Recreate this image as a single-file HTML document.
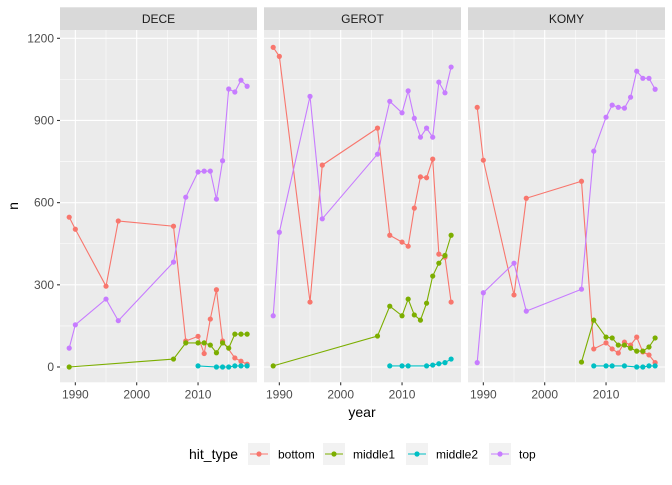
<!DOCTYPE html>
<html><head><meta charset="utf-8"><style>
body{margin:0;background:#fff;font-family:"Liberation Sans",Arial,sans-serif}
svg text{font-family:"Liberation Sans",Arial,sans-serif}
</style></head><body>
<svg id="chart" width="672" height="480" viewBox="0 0 672 480" xmlns="http://www.w3.org/2000/svg">
<g id="g"></g>
</svg>
<script>
const facets = ["DECE","GEROT","KOMY"];
const seriesNames = ["bottom","middle1","middle2","top"];
const colors = ["#F8766D","#7CAE00","#00BFC4","#C77CFF"];
const xTicks = [1990,2000,2010];
const yTicks = [0,300,600,900,1200];

const deceBottomYears = [1989,1990,1995,1997,2006,2008,2010,2011,2012,2013,2014,2016,2017,2018];
const deceBottomVals  = [547,503,295,533,514,95,112,49,175,282,95,33,21,10];
const deceMid1Years = [1989,2006,2008,2010,2011,2012,2013,2014,2015,2016,2017,2018];
const deceMid1Vals  = [0,29,88,88,88,80,52,88,69,120,120,120];
const deceMid2Years = [2010,2013,2014,2015,2016,2017,2018];
const deceMid2Vals  = [4,0,0,0,4,4,4];
const deceTopYears = [1989,1990,1995,1997,2006,2008,2010,2011,2012,2013,2014,2015,2016,2017,2018];
const deceTopVals  = [69,154,248,169,383,620,712,715,715,613,753,1015,1004,1047,1025];

const gerotBottomYears = [1989,1990,1995,1997,2006,2008,2010,2011,2012,2013,2014,2015,2016,2017,2018];
const gerotBottomVals  = [1167,1134,237,737,872,481,456,441,580,694,691,759,412,401,237];
const gerotMid1Years = [1989,2006,2008,2010,2011,2012,2013,2014,2015,2016,2017,2018];
const gerotMid1Vals  = [4,113,222,187,248,190,171,233,332,379,407,481];
const gerotMid2Years = [2008,2010,2011,2014,2015,2016,2017,2018];
const gerotMid2Vals  = [4,4,4,4,7,12,16,29];
const gerotTopYears = [1989,1990,1995,1997,2006,2008,2010,2011,2012,2013,2014,2015,2016,2017,2018];
const gerotTopVals  = [187,492,988,541,777,970,928,1008,908,839,872,839,1040,1001,1095];

const komyBottomYears = [1989,1990,1995,1997,2006,2008,2010,2011,2012,2013,2014,2015,2016,2017,2018];
const komyBottomVals  = [948,755,263,616,678,66,88,66,51,91,80,109,55,44,16];
const komyMid1Years = [2006,2008,2010,2011,2012,2013,2014,2015,2016,2017,2018];
const komyMid1Vals  = [18,171,109,106,80,80,69,58,58,73,106];
const komyMid2Years = [2008,2010,2011,2013,2015,2016,2017,2018];
const komyMid2Vals  = [4,4,4,4,0,0,4,4];
const komyTopYears = [1989,1990,1995,1997,2006,2008,2010,2011,2012,2013,2014,2015,2016,2017,2018];
const komyTopVals  = [16,271,379,204,284,788,912,956,948,945,985,1080,1054,1054,1014];

const panelData = [
 [[deceBottomYears,deceBottomVals],[deceMid1Years,deceMid1Vals],[deceMid2Years,deceMid2Vals],[deceTopYears,deceTopVals]],
 [[gerotBottomYears,gerotBottomVals],[gerotMid1Years,gerotMid1Vals],[gerotMid2Years,gerotMid2Vals],[gerotTopYears,gerotTopVals]],
 [[komyBottomYears,komyBottomVals],[komyMid1Years,komyMid1Vals],[komyMid2Years,komyMid2Vals],[komyTopYears,komyTopVals]]
];

const NS="http://www.w3.org/2000/svg";
const root=document.getElementById('g');
function mk(tag,attrs,parent){const e=document.createElementNS(NS,tag);for(const k in attrs)e.setAttribute(k,attrs[k]);(parent||root).appendChild(e);return e;}
const PT=30,PB=382.3,PW=197,pitch=204,P0=60;
const yMin=0,yMax=1200,y0px=367,y1px=38.3;
const xMinYear=1987.5,pxPerYear=6.135;
function yScale(v){return y0px+(v-yMin)/(yMax-yMin)*(y1px-y0px);}
function xScale(p,yr){return P0+p*pitch+(yr-xMinYear)*pxPerYear;}

facets.forEach((f,p)=>{
  const left=P0+p*pitch;
  const strip=mk('rect',{x:left,y:7.3,width:PW,height:PT-7.3,fill:'#D9D9D9'});
  
  
  const st=mk('text',{x:left+PW/2,y:23,'text-anchor':'middle','font-size':'12',fill:'#1A1A1A'});
  st.textContent=f;
  
  
  const bg=mk('rect',{x:left,y:PT,width:PW,height:PB-PT,fill:'#EBEBEB'});
  
  
  // minor grid
  for(let i=0;i<yTicks.length-1;i++){const v=(yTicks[i]+yTicks[i+1])/2;mk('line',{x1:left,x2:left+PW,y1:yScale(v),y2:yScale(v),stroke:'#fff','stroke-width':0.55});}
  [1995,2005,2015].forEach(yr=>mk('line',{x1:xScale(p,yr),x2:xScale(p,yr),y1:PT,y2:PB,stroke:'#fff','stroke-width':0.55}));
  yTicks.forEach(v=>mk('line',{x1:left,x2:left+PW,y1:yScale(v),y2:yScale(v),stroke:'#fff','stroke-width':1.1}));
  xTicks.forEach(yr=>{
    mk('line',{x1:xScale(p,yr),x2:xScale(p,yr),y1:PT,y2:PB,stroke:'#fff','stroke-width':1.1});
    mk('line',{x1:xScale(p,yr),x2:xScale(p,yr),y1:PB,y2:PB+3,stroke:'#333','stroke-width':1.1});
    const t=mk('text',{x:xScale(p,yr),y:PB+16,'text-anchor':'middle','font-size':'12',fill:'#4D4D4D'});
    t.textContent=yr;
    
    
  });
  panelData[p].forEach((s,si)=>{
    const [yrs,vals]=s;
    const pts=yrs.map((yr,i)=>xScale(p,yr).toFixed(2)+','+yScale(vals[i]).toFixed(2)).join(' ');
    const line=mk('polyline',{points:pts,fill:'none',stroke:colors[si],'stroke-width':1.1});
    
    
    yrs.forEach((yr,i)=>{
      const c=mk('circle',{cx:xScale(p,yr),cy:yScale(vals[i]),r:2.6,fill:colors[si]});
      
      
    });
  });
});
yTicks.forEach(v=>{
  mk('line',{x1:57,x2:60,y1:yScale(v),y2:yScale(v),stroke:'#333','stroke-width':1.1});
  const t=mk('text',{x:54,y:yScale(v)+4,'text-anchor':'end','font-size':'12',fill:'#4D4D4D'});
  t.textContent=v;
  
  
});
const xt=mk('text',{x:362,y:417,'text-anchor':'middle','font-size':'14',fill:'#000'});
xt.textContent='year';


const yt=mk('text',{x:0,y:0,'text-anchor':'middle','font-size':'14',fill:'#000',transform:'translate(18,206) rotate(-90)'});
yt.textContent='n';


// legend
const lt=mk('text',{x:189,y:459,'font-size':'14',fill:'#000'});
lt.textContent='hit_type';


const keyX=[248,323,406,489];
seriesNames.forEach((n,i)=>{
  const g=mk('g',{});
  
  
  mk('rect',{x:keyX[i],y:443,width:22,height:22,fill:'#F2F2F2'},g);
  mk('line',{x1:keyX[i]+2,x2:keyX[i]+20,y1:454,y2:454,stroke:colors[i],'stroke-width':1.1},g);
  mk('circle',{cx:keyX[i]+11,cy:454,r:2.6,fill:colors[i]},g);
  const t=mk('text',{x:keyX[i]+30,y:458.5,'font-size':'12',fill:'#000'},g);
  t.textContent=n;
});
</script>
</body></html>
